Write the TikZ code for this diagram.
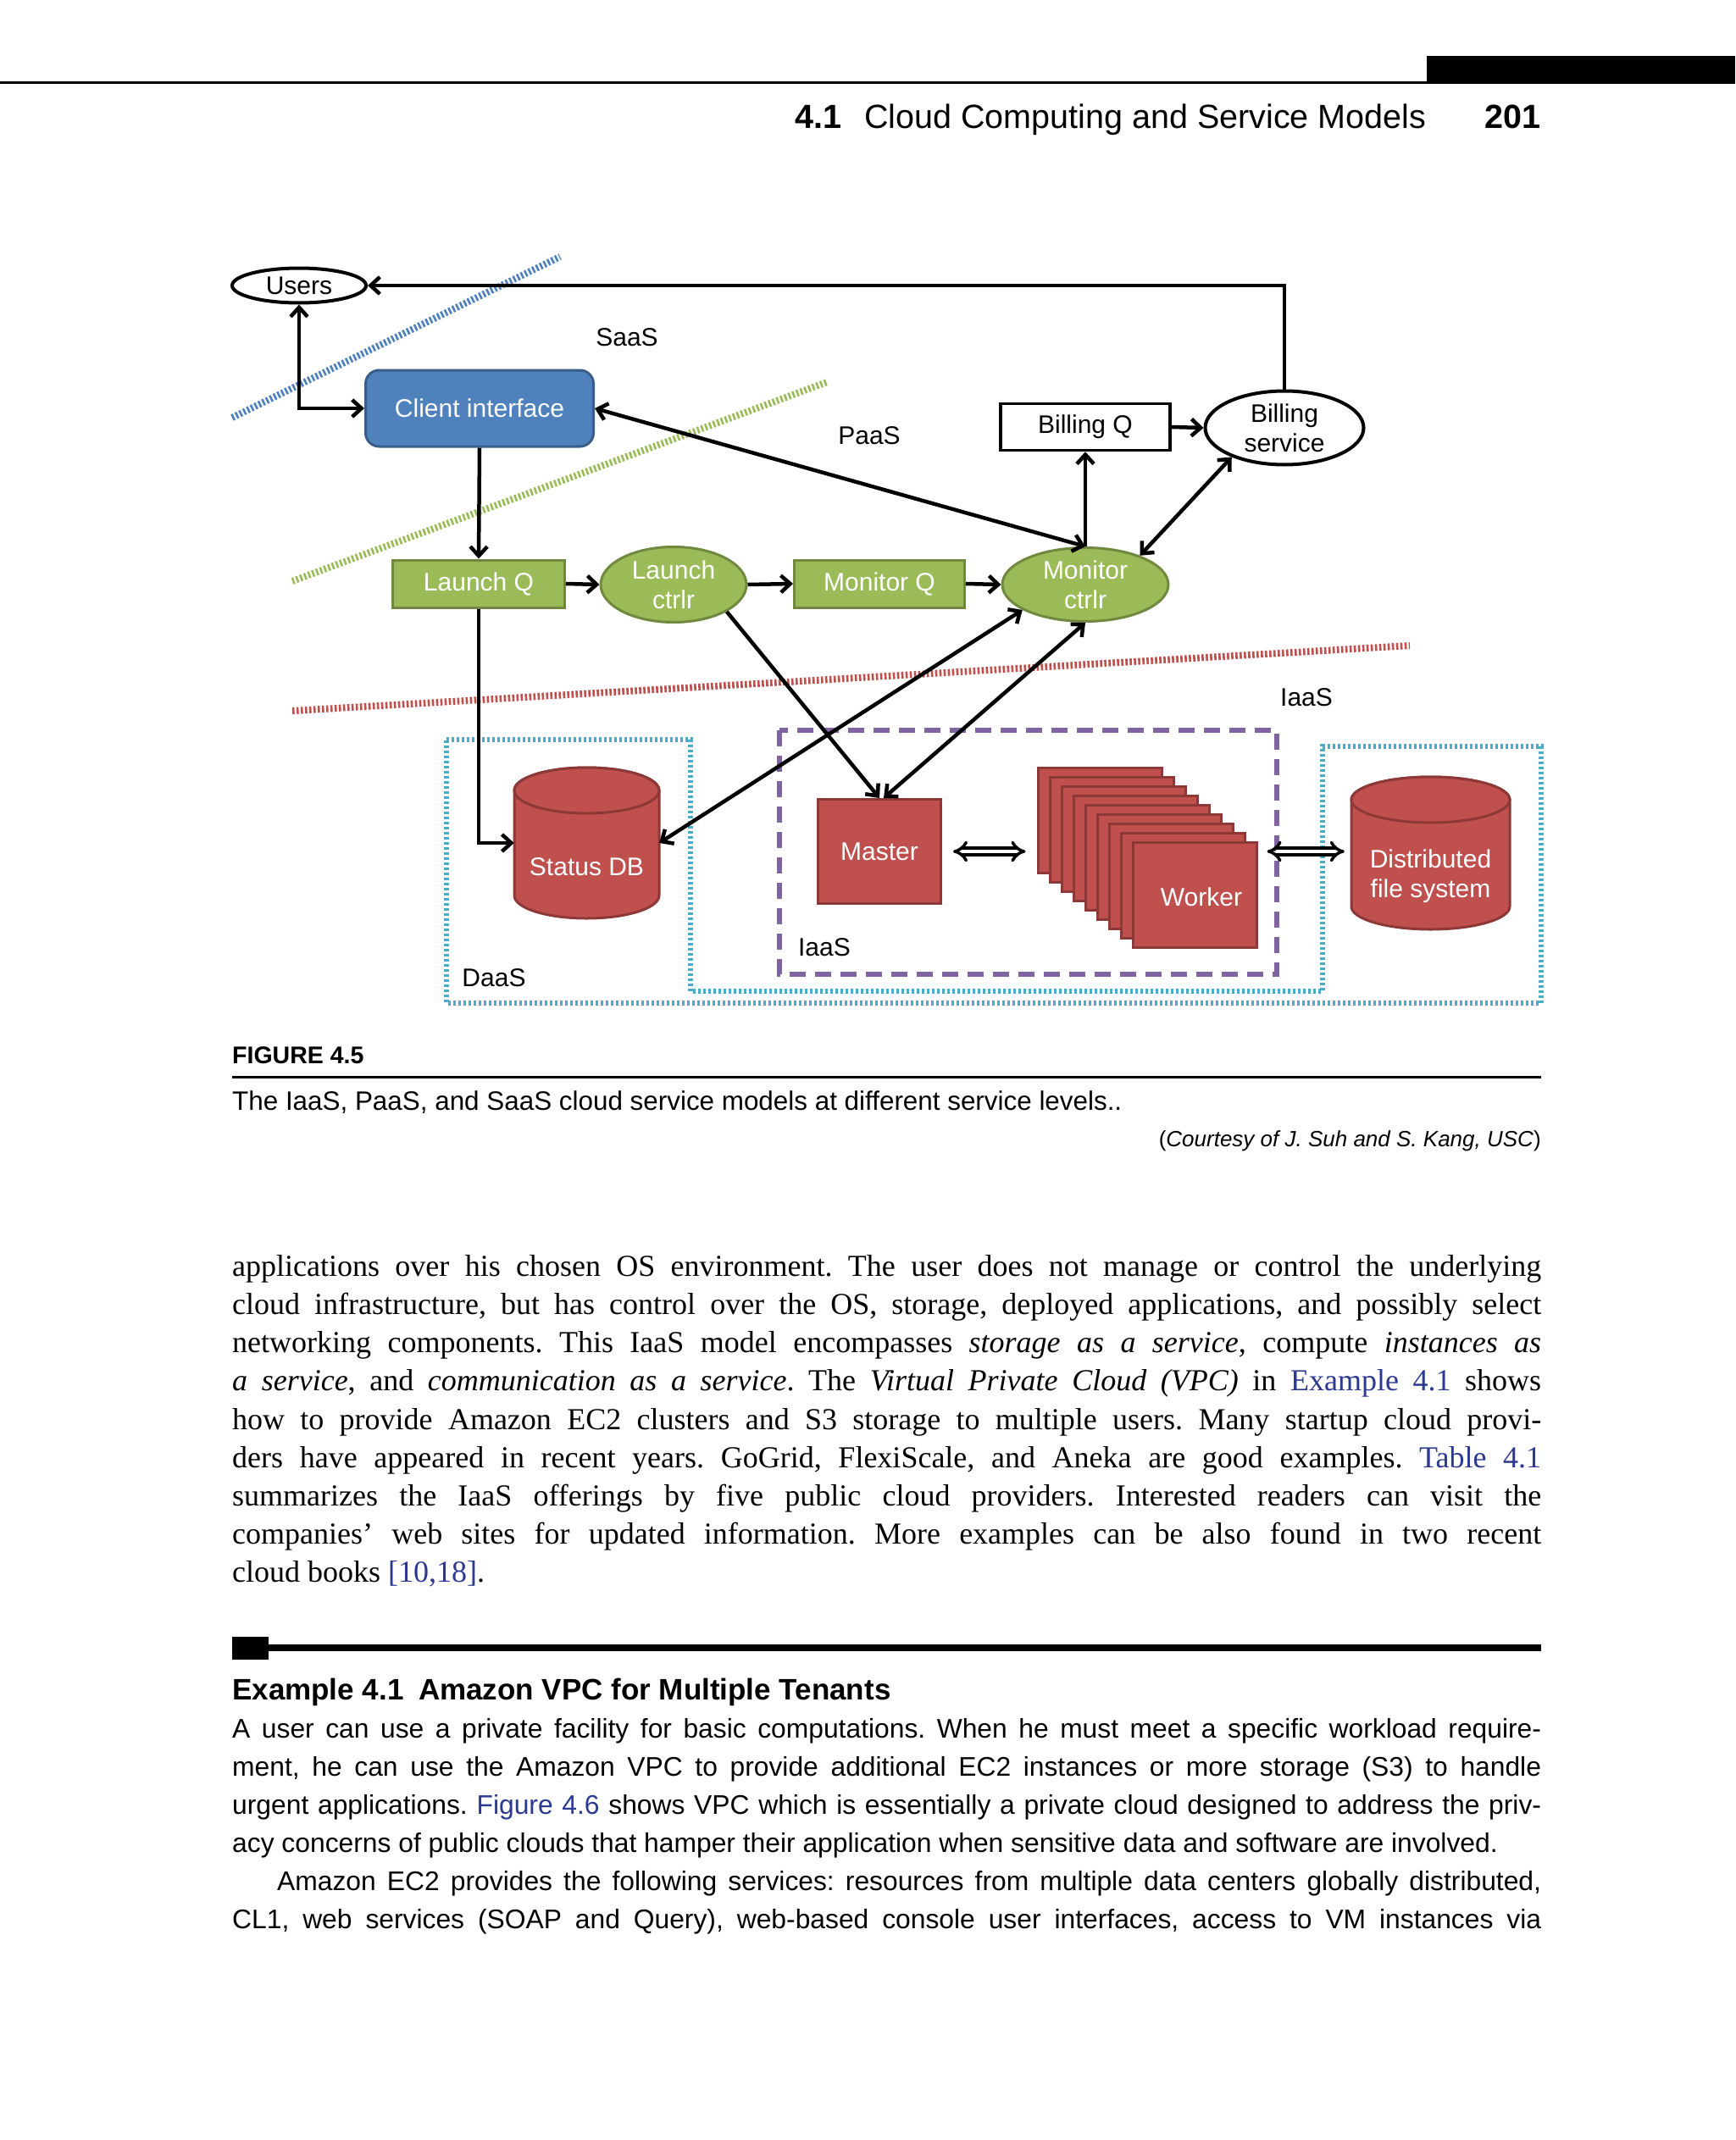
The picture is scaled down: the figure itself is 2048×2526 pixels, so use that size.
\documentclass[tikz,border=0pt]{standalone}
\usepackage{graphicx}
\usepackage{fontspec}
\setmainfont{Liberation Serif}
\newfontfamily\sansf{Liberation Sans}
\usetikzlibrary{arrows.meta,calc,shapes.geometric}
\definecolor{cblue}{HTML}{4F81BD}
\definecolor{cbluedk}{HTML}{385D8A}
\definecolor{cgreen}{HTML}{9BBB59}
\definecolor{cgreendk}{HTML}{71893F}
\definecolor{cred}{HTML}{C0504D}
\definecolor{creddk}{HTML}{8C3836}
\definecolor{ccyan}{HTML}{4BACC6}
\definecolor{cpurple}{HTML}{8064A2}
\definecolor{linkc}{HTML}{2B3990}
\frenchspacing
\newsavebox\lbox
\newlength\jlwidth
\newcommand\jlw[2]{\setlength\jlwidth{#1}\sbox\lbox{#2}\ifdim\wd\lbox>\jlwidth\resizebox{\jlwidth}{\height}{\usebox\lbox}\else\makebox[\jlwidth][s]{#2}\fi}
\newcommand\jl[1]{\jlw{1545pt}{#1}}
\newcommand\lk[1]{\textcolor{linkc}{#1}}
\begin{document}
\begin{tikzpicture}[x=1pt,y=-1pt,
  >={Straight Barb[length=11pt,width=20pt]},
  figtxt/.style={font=\sansf\fontsize{30}{35}\selectfont, inner sep=0pt, align=center},
  ln/.style={line width=4.5pt, draw=black},
  ell/.style={figtxt, ellipse, draw=black, line width=4pt, fill=white},
  gbox/.style={figtxt, rectangle, fill=cgreen, draw=cgreendk, line width=3pt, text=white},
  gell/.style={figtxt, ellipse, fill=cgreen, draw=cgreendk, line width=3pt, text=white},
  rbox/.style={figtxt, rectangle, fill=cred, draw=creddk, line width=3pt, text=white},
  cyl/.style={fill=cred, draw=creddk, line width=3pt},
  sep/.style={line width=8pt, dash pattern=on 2.6pt off 2.4pt},
  dbl/.style={double=white, double distance=4.5pt, line width=3.5pt, {Implies}-{Implies}},
  bodyline/.style={anchor=base west, inner sep=0pt, font=\fontsize{36}{45}\selectfont},
  exline/.style={anchor=base west, inner sep=0pt, font=\sansf\fontsize{31.8}{45}\selectfont}]
\useasboundingbox (0,0) rectangle (2048,2526);
\fill[white] (0,0) rectangle (2048,2526);

% running head
\fill (1684,66) rectangle (2048,98);
\fill (0,96.5) rectangle (2048,99.5);
\node[anchor=base west, inner sep=0pt, font=\sansf\bfseries\fontsize{39.5}{48}\selectfont] (hnum) at (938,152) {4.1};
\node[anchor=base west, inner sep=0pt, font=\sansf\fontsize{39.5}{48}\selectfont] (htitle) at (1020,152) {Cloud Computing and Service Models};
\node[anchor=base east, inner sep=0pt, font=\sansf\bfseries\fontsize{39.5}{48}\selectfont] (hpage) at (1819,152) {201};

% separators
\draw[sep, draw=cblue] (274,493) -- (661,303);
\draw[sep, draw=cgreen] (345,686) -- (976,451);
\draw[sep, draw=cred] (345,839) -- (1664,762);
\draw[ccyan, line width=5.5pt, dash pattern=on 3pt off 3pt]
  (527,873) -- (815,873) -- (815,1170) -- (1561,1170) -- (1561,881) -- (1819,881) -- (1819,1184) -- (527,1184) -- cycle;
\draw[cpurple, line width=5.5pt, dash pattern=on 19pt off 11pt] (920,862) rectangle (1507,1150);

% labels
\node[figtxt] (saas) at (740,398) {SaaS};
\node[figtxt] (paas) at (1026,514) {PaaS};
\node[figtxt] (iaas1) at (1542,823) {IaaS};
\node[figtxt] (iaas2) at (973,1118) {IaaS};
\node[figtxt] (daas) at (583,1154) {DaaS};

% nodes
\node[ell, minimum width=158pt, minimum height=41pt] (users) at (353,337) {Users};
\node[ell, minimum width=187pt, minimum height=87pt] (bs) at (1516,505) {Billing\\service};
\node[figtxt, draw=black, line width=3.5pt, minimum width=200pt, minimum height=55pt] (bq) at (1281,504) {Billing Q};
\node[figtxt, rectangle, rounded corners=16pt, fill=cblue, draw=cbluedk, line width=3pt, text=white, minimum width=269pt, minimum height=90pt] (ci) at (566,482) {Client interface};
\node[gbox, minimum width=203pt, minimum height=56pt] (lq) at (565,689) {Launch Q};
\node[gell, minimum width=172pt, minimum height=89pt] (lc) at (795,690) {Launch\\ctrlr};
\node[gbox, minimum width=201pt, minimum height=56pt] (mq) at (1038,689) {Monitor Q};
\node[gell, minimum width=196pt, minimum height=87pt] (mc) at (1281,690) {Monitor\\ctrlr};
\node[rbox, minimum width=145pt, minimum height=123pt] (master) at (1038,1005) {Master};
\foreach \i in {0,...,8}
  \node[rbox, minimum width=146pt, minimum height=124pt] (w\i) at ({1298+14*\i},{968+11*\i}) {};
\node[figtxt, text=white] (wtxt) at (1418,1059) {Worker};

% cylinders
\path[cyl] (607,933) -- (607,1057) arc[start angle=180,end angle=0,x radius=85.5,y radius=27] -- (778,933) arc[start angle=0,end angle=-180,x radius=85.5,y radius=27] -- cycle;
\path[cyl] (692.5,933) ellipse [x radius=85.5, y radius=27];
\node[figtxt, minimum width=171pt, minimum height=178pt, label={[figtxt,text=white,yshift=-28pt]center:Status DB}] (sdb) at (692.5,995) {};
\path[cyl] (1595,944) -- (1595,1070) arc[start angle=180,end angle=0,x radius=93.5,y radius=27] -- (1782,944) arc[start angle=0,end angle=-180,x radius=93.5,y radius=27] -- cycle;
\path[cyl] (1688.5,944) ellipse [x radius=93.5, y radius=27];
\node[figtxt, minimum width=187pt, minimum height=180pt, label={[figtxt,text=white,yshift=-27pt]center:Distributed\\file system}] (dfs) at (1688.5,1007) {};

% connectors
\draw[ln,<-] (users.east) -| (bs.north);
\draw[ln,<->] (users.south) |- (ci.west);
\draw[ln,<->] (ci.east) -- (mc.north);
\draw[ln,->] (mc.north) -- (bq.south);
\draw[ln,->] (bq.east) -- (bs.west);
\draw[ln,<->] (mc.28) -- (bs.209);
\draw[ln,->] (ci.south) -- (lq.north);
\draw[ln,->] (lq.east) -- (lc.west);
\draw[ln,->] (lc.east) -- (mq.west);
\draw[ln,->] (mq.east) -- (mc.west);
\draw[ln,->] (lq.south) |- (sdb.west);
\draw[ln,->] (lc.-27) -- (master.north);
\draw[ln,<->] (mc.202) -- (sdb.east);
\draw[ln,<->] (mc.south) -- ([xshift=5pt]master.north);
\draw[dbl] ([xshift=13pt]master.east) -- ([xshift=-13pt]master.east -| w0.west);
\draw[dbl] ([xshift=11pt]master.east -| w8.east) -- ([xshift=-8pt]master.east -| dfs.west);

% caption
\node[anchor=base west, inner sep=0pt, font=\sansf\bfseries\fontsize{28.5}{32}\selectfont] (figlbl) at (274,1255) {FIGURE 4.5};
\fill (274,1269.5) rectangle (1819,1272.5);
\node[anchor=base west, inner sep=0pt, font=\sansf\fontsize{31.4}{36}\selectfont] (cap) at (274,1310) {The IaaS, PaaS, and SaaS cloud service models at different service levels..};
\node[anchor=base east, inner sep=0pt, font=\sansf\fontsize{26}{30}\selectfont] (court) at (1819,1353) {(\textit{Courtesy of J. Suh and S. Kang, USC})};

% body text
\node[bodyline] (b1) at (274,1506.6) {\jl{applications over his chosen OS environment. The user does not manage or control the underlying}};
\node[bodyline] (b2) at (274,1551.7) {\jl{cloud infrastructure, but has control over the OS, storage, deployed applications, and possibly select}};
\node[bodyline] (b3) at (274,1596.8) {\jl{networking components. This IaaS model encompasses \textit{storage as a service}, compute \textit{instances as}}};
\node[bodyline] (b4) at (274,1641.9) {\jl{\textit{a service}, and \textit{communication as a service}. The \textit{Virtual Private Cloud (VPC)} in \lk{Example 4.1} shows}};
\node[bodyline] (b5) at (274,1687.0) {\jl{how to provide Amazon EC2 clusters and S3 storage to multiple users. Many startup cloud provi-}};
\node[bodyline] (b6) at (274,1732.1) {\jl{ders have appeared in recent years. GoGrid, FlexiScale, and Aneka are good examples. \lk{Table 4.1}}};
\node[bodyline] (b7) at (274,1777.2) {\jl{summarizes the IaaS offerings by five public cloud providers. Interested readers can visit the}};
\node[bodyline] (b8) at (274,1822.3) {\jl{companies’ web sites for updated information. More examples can be also found in two recent}};
\node[bodyline] (b9) at (274,1867.4) {cloud books \lk{[10,18]}.};

% example
\fill (274,1941) rectangle (1819,1949);
\fill (274,1932) rectangle (317,1959);
\node[anchor=base west, inner sep=0pt, font=\sansf\bfseries\fontsize{35}{40}\selectfont] (exh) at (274,2006) {Example 4.1\hspace{0.5em}Amazon VPC for Multiple Tenants};
\node[exline] (e1) at (274,2051) {\jl{A user can use a private facility for basic computations. When he must meet a specific workload require-}};
\node[exline] (e2) at (274,2096.1) {\jl{ment, he can use the Amazon VPC to provide additional EC2 instances or more storage (S3) to handle}};
\node[exline] (e3) at (274,2141.2) {\jl{urgent applications. \lk{Figure 4.6} shows VPC which is essentially a private cloud designed to address the priv-}};
\node[exline] (e4) at (274,2186.3) {acy concerns of public clouds that hamper their application when sensitive data and software are involved.};
\node[exline] (e5) at (327,2231.4) {\jlw{1492pt}{Amazon EC2 provides the following services: resources from multiple data centers globally distributed,}};
\node[exline] (e6) at (274,2276.5) {\jl{CL1, web services (SOAP and Query), web-based console user interfaces, access to VM instances via}};
\end{tikzpicture}
\end{document}
